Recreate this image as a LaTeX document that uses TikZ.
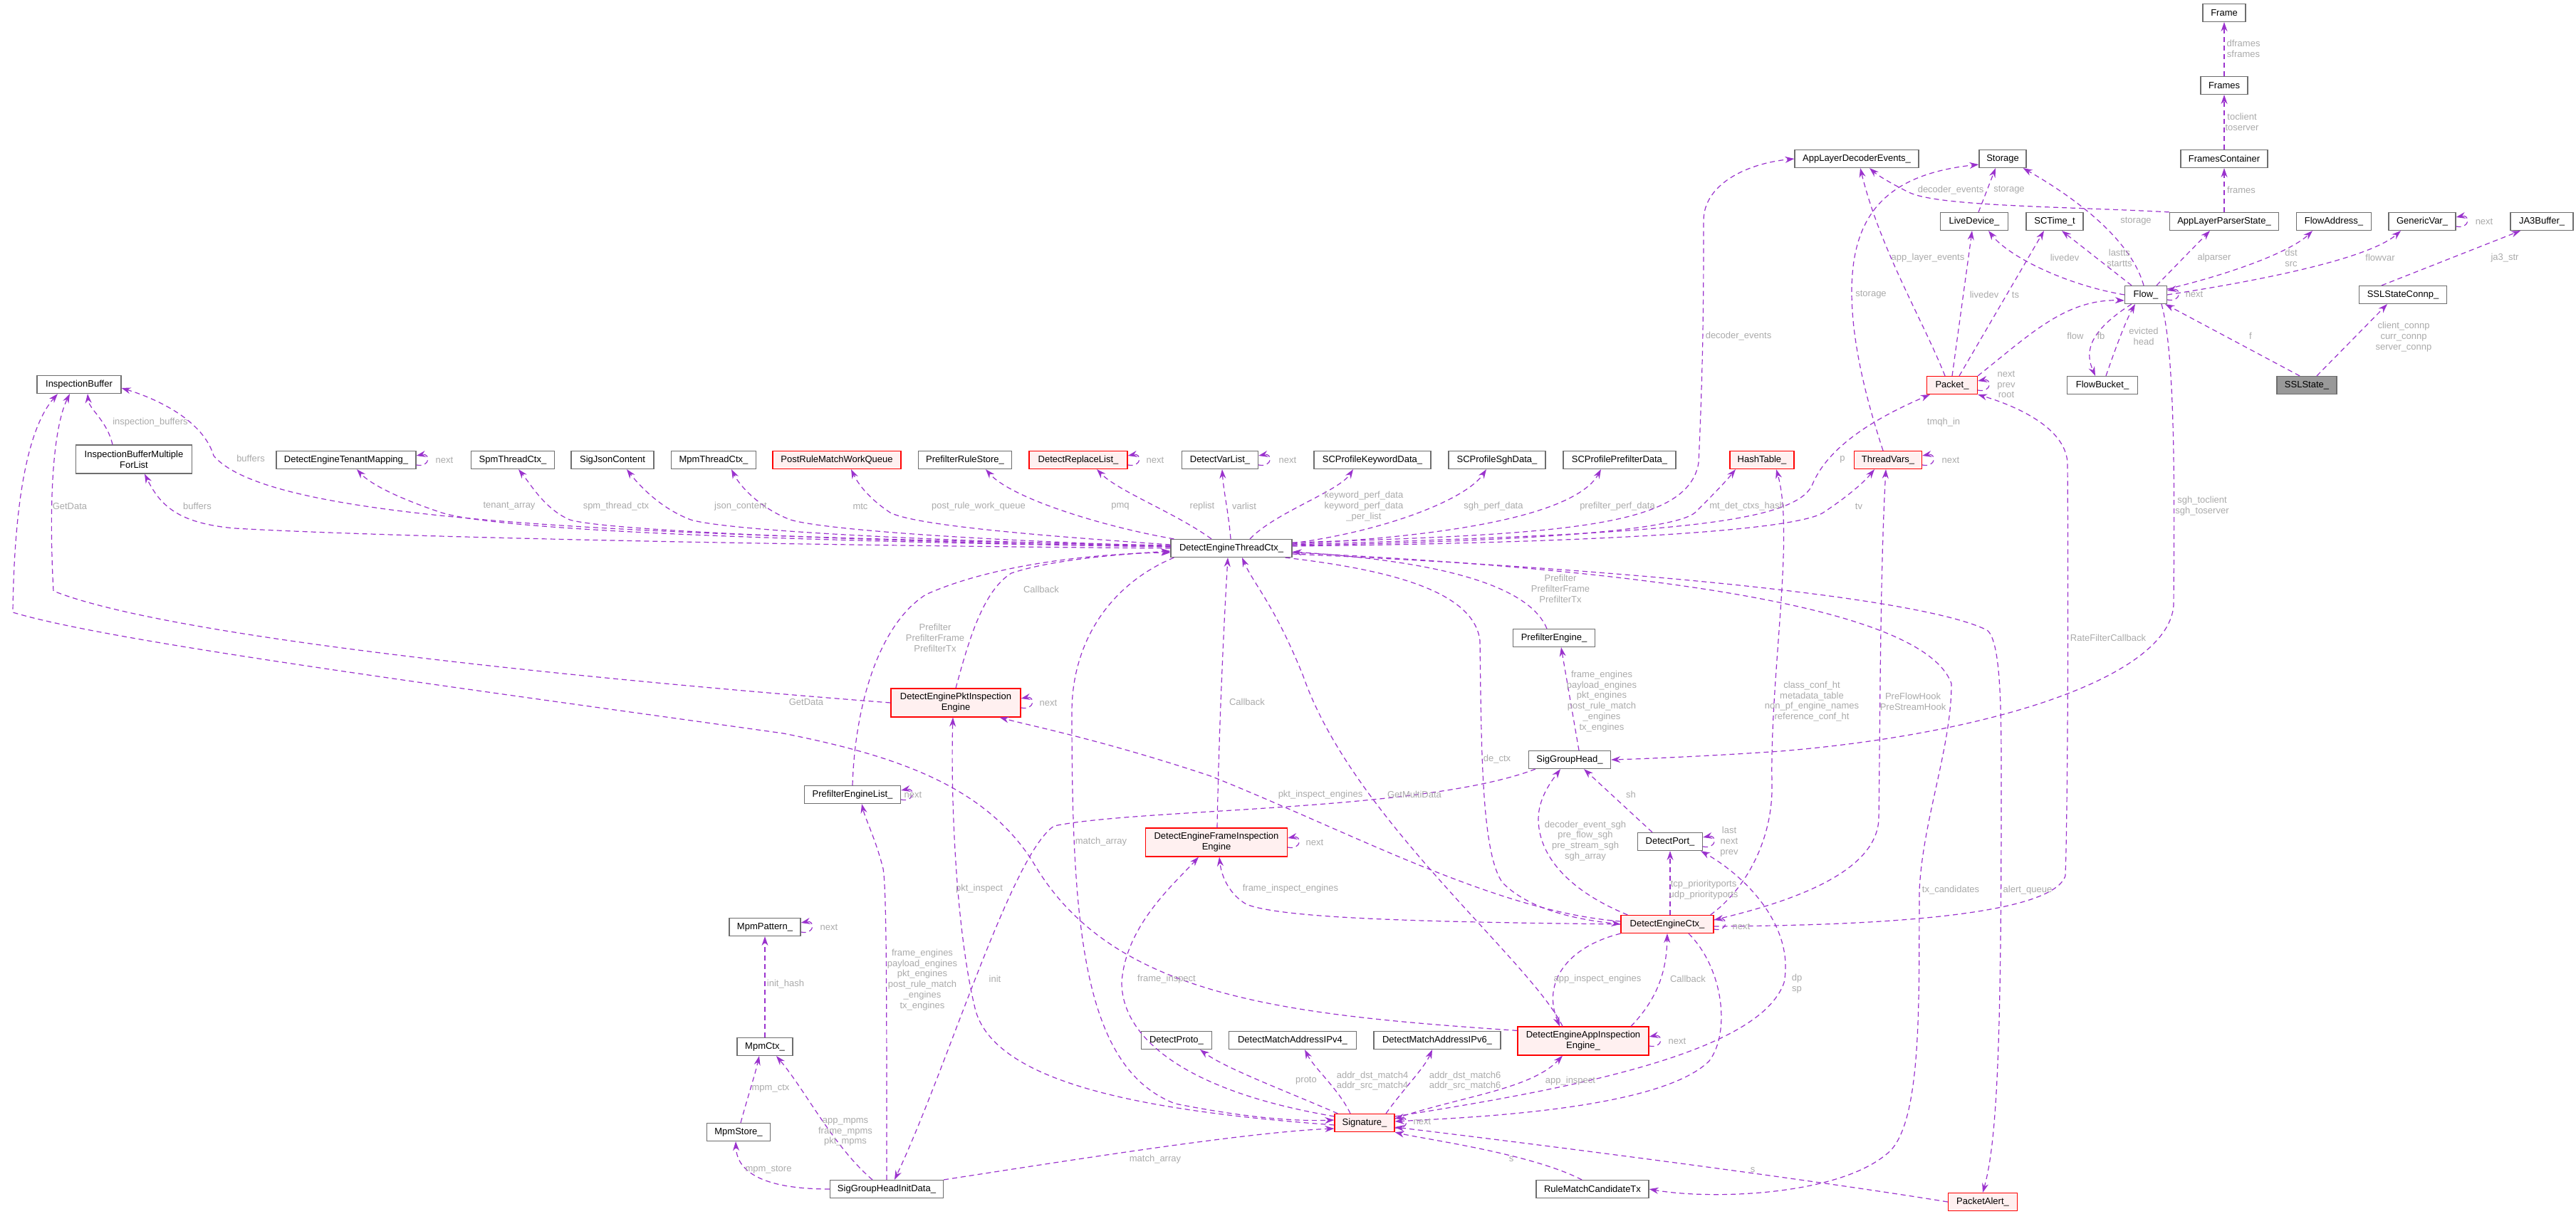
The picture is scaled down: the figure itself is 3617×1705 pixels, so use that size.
\documentclass[tikz,border=0pt]{standalone}
\usepackage{fontspec}
\setmainfont{Liberation Sans}
\usetikzlibrary{arrows.meta,calc}
\definecolor{purp}{RGB}{154,50,205}
\definecolor{lblc}{RGB}{170,170,170}
\definecolor{bord}{RGB}{110,110,110}
\definecolor{pinkf}{RGB}{255,240,240}
\definecolor{greyf}{RGB}{153,153,153}
\newcommand\myloop[1]{\draw[e] ($(#1.east)+(0,7)$) .. controls +(20,4) and +(20,-4) .. ($(#1.east)+(0,-6)$);}
\begin{document}
\begin{tikzpicture}[x=1pt,y=-1pt,
  box/.style={draw=bord,line width=1.2pt,fill=white,minimum height=25,inner sep=1,font=\fontsize{13}{14.8}\selectfont,align=center},
  rbox/.style={box,draw=red,fill=pinkf},
  gbox/.style={box,fill=greyf},
  tall/.style={minimum height=40},
  e/.style={purp,line width=1.2pt,dash pattern=on 7pt off 5pt,-{Stealth[length=13pt,width=9pt]}},
  lbl/.style={text=lblc,font=\fontsize{13}{14.8}\selectfont,align=center,inner sep=0}]
\fill[white] (0,0) rectangle (3617,1705);
\useasboundingbox (0,0) rectangle (3617,1705);
% nodes
\node[box,minimum width=118] (IB) at (111,540) {InspectionBuffer};
\node[box,tall,minimum width=163] (IBM) at (188,645) {InspectionBufferMultiple\\ForList};
\node[box,minimum width=196] (TEN) at (486,646) {DetectEngineTenantMapping\_};
\node[box,minimum width=117] (SPM) at (720,646) {SpmThreadCtx\_};
\node[box,minimum width=116] (SJC) at (860,646) {SigJsonContent};
\node[box,minimum width=119] (MTC) at (1002,646) {MpmThreadCtx\_};
\node[rbox,minimum width=180] (PRQ) at (1175,646) {PostRuleMatchWorkQueue};
\node[box,minimum width=131] (PRS) at (1355,646) {PrefilterRuleStore\_};
\node[rbox,minimum width=138] (DRL) at (1514,646) {DetectReplaceList\_};
\node[box,minimum width=107] (DVL) at (1713,646) {DetectVarList\_};
\node[box,minimum width=164] (SPK) at (1927,646) {SCProfileKeywordData\_};
\node[box,minimum width=136] (SPS) at (2102,646) {SCProfileSghData\_};
\node[box,minimum width=158] (SPP) at (2274,646) {SCProfilePrefilterData\_};
\node[rbox,minimum width=90] (HT) at (2474,646) {HashTable\_};
\node[rbox,minimum width=95] (TV) at (2651,646) {ThreadVars\_};
\node[box,minimum width=170] (DETC) at (1729,770) {DetectEngineThreadCtx\_};
\node[box,minimum width=115] (PFE) at (2182,896) {PrefilterEngine\_};
\node[rbox,tall,minimum width=182] (PKT) at (1342,987) {DetectEnginePktInspection\\Engine};
\node[box,minimum width=115] (SGH) at (2204,1067) {SigGroupHead\_};
\node[box,minimum width=135] (PFL) at (1197,1116) {PrefilterEngineList\_};
\node[box,minimum width=91] (DEP) at (2345,1182) {DetectPort\_};
\node[rbox,tall,minimum width=199] (FRM) at (1708,1183) {DetectEngineFrameInspection\\Engine};
\node[box,minimum width=100] (MPP) at (1074,1302) {MpmPattern\_};
\node[rbox,minimum width=130] (DEC) at (2341,1298) {DetectEngineCtx\_};
\node[rbox,tall,minimum width=184] (APP) at (2223,1462) {DetectEngineAppInspection\\Engine\_};
\node[box,minimum width=99] (DPR) at (1652,1461) {DetectProto\_};
\node[box,minimum width=179] (IP4) at (1815,1461) {DetectMatchAddressIPv4\_};
\node[box,minimum width=178] (IP6) at (2018,1461) {DetectMatchAddressIPv6\_};
\node[box,minimum width=78] (MPC) at (1074,1470) {MpmCtx\_};
\node[rbox,minimum width=84] (SIG) at (1916,1577) {Signature\_};
\node[box,minimum width=89] (MPS) at (1037,1590) {MpmStore\_};
\node[box,minimum width=159] (SHI) at (1245,1670) {SigGroupHeadInitData\_};
\node[box,minimum width=158] (RMC) at (2236,1670) {RuleMatchCandidateTx};
\node[rbox,minimum width=97] (PA) at (2784,1688) {PacketAlert\_};
\node[box,minimum width=60] (FR) at (3123,18) {Frame};
\node[box,minimum width=66] (FRS) at (3123,120) {Frames};
\node[box,minimum width=122] (FC) at (3123,223) {FramesContainer};
\node[box,minimum width=174] (ADE) at (2607,223) {AppLayerDecoderEvents\_};
\node[box,minimum width=66] (STO) at (2812,223) {Storage};
\node[box,minimum width=95] (LD) at (2772,311) {LiveDevice\_};
\node[box,minimum width=80] (SCT) at (2885,311) {SCTime\_t};
\node[box,minimum width=153] (ALP) at (3123,311) {AppLayerParserState\_};
\node[box,minimum width=105] (FA) at (3277,311) {FlowAddress\_};
\node[box,minimum width=94] (GV) at (3401,311) {GenericVar\_};
\node[box,minimum width=88] (JA3) at (3569,311) {JA3Buffer\_};
\node[box,minimum width=59] (FLW) at (3013,414) {Flow\_};
\node[box,minimum width=123] (SSC) at (3374,414) {SSLStateConnp\_};
\node[rbox,minimum width=71] (PK) at (2741,541) {Packet\_};
\node[box,minimum width=99] (FB) at (2952,541) {FlowBucket\_};
\node[gbox,minimum width=84] (SSL) at (3239,541) {SSLState\_};
% edges left
\draw[e] ($(IBM.north)+(-30,0)$) .. controls (150,590) and (125,575) .. ($(IB.south)+(12,0)$);
\draw[e] ($(DETC.west)+(0,-4)$) .. controls (900,752) and (380,735) .. (300,640) .. controls (285,590) and (220,560) .. ($(IB.east)+(0,5)$);
\draw[e] (DETC.west) .. controls (1000,765) and (500,752) .. (330,742) .. controls (250,735) and (225,710) .. ($(IBM.south)+(15,0)$);
\draw[e] (PKT.west) .. controls (900,960) and (250,900) .. (75,830) .. controls (68,700) and (75,600) .. ($(IB.south)+(-13,0)$);
\draw[e] ($(APP.north west)+(0,6)$) .. controls (1800,1425) and (1560,1400) .. (1450,1210) .. controls (1380,1100) and (1250,1060) .. (1100,1030) .. controls (600,960) and (150,900) .. (18,860) .. controls (20,700) and (40,600) .. ($(IB.south)+(-30,0)$);
\draw[e] ($(DETC.west)+(0,-2)$) .. controls (1100,760) and (700,745) .. (620,720) .. controls (560,700) and (520,680) .. ($(TEN.south)+(15,0)$);
\draw[e] ($(DETC.west)+(0,-2)$) .. controls (1200,760) and (850,745) .. (800,730) .. controls (765,715) and (745,680) .. ($(SPM.south)+(8,0)$);
\draw[e] ($(DETC.west)+(0,-3)$) .. controls (1300,760) and (1020,745) .. (970,730) .. controls (930,715) and (900,685) .. ($(SJC.south)+(20,0)$);
\draw[e] ($(DETC.west)+(0,-3)$) .. controls (1400,760) and (1160,745) .. (1110,730) .. controls (1070,715) and (1040,685) .. ($(MTC.south)+(25,0)$);
\draw[e] ($(DETC.west)+(0,-5)$) .. controls (1500,755) and (1290,740) .. (1250,720) .. controls (1220,700) and (1205,680) .. ($(PRQ.south)+(20,0)$);
\draw[e] ($(DETC.north west)+(5,0)$) .. controls (1550,740) and (1420,700) .. ($(PRS.south)+(29,0)$);
\draw[e] ($(DETC.north)+(-28,0)$) .. controls (1650,720) and (1570,690) .. ($(DRL.south)+(26,0)$);
\draw[e] ($(DETC.north)+(-1,0)$) .. controls (1725,720) and (1718,690) .. ($(DVL.south)+(3,0)$);
\draw[e] ($(DETC.north)+(26,0)$) .. controls (1790,720) and (1880,690) .. ($(SPK.south)+(-27,0)$);
\draw[e] ($(DETC.east)+(0,-7)$) .. controls (1950,745) and (2060,700) .. ($(SPS.south)+(-15,0)$);
\draw[e] ($(DETC.east)+(0,-6)$) .. controls (2100,750) and (2220,710) .. ($(SPP.south)+(-26,0)$);
\draw[e] ($(DETC.east)+(0,-4)$) .. controls (2150,760) and (2350,745) .. (2380,720) .. controls (2400,700) and (2420,680) .. ($(HT.south)+(-37,0)$);
\draw[e] ($(DETC.east)+(0,-3)$) .. controls (2250,762) and (2520,745) .. (2560,720) .. controls (2590,700) and (2615,680) .. ($(TV.south)+(-19,0)$);
\draw[e] ($(DETC.east)+(0,-5)$) .. controls (2300,750) and (2520,740) .. (2545,680) .. controls (2570,620) and (2650,580) .. ($(PK.south west)+(5,0)$);
\draw[e] ($(DETC.east)+(0,-8)$) .. controls (2200,750) and (2370,740) .. (2385,650) .. controls (2392,500) and (2392,400) .. (2392,310) .. controls (2392,260) and (2450,230) .. (ADE.west);
\draw[e] ($(DETC.south east)+(-10,0)$) .. controls (1950,800) and (2070,830) .. (2078,900) .. controls (2080,1050) and (2080,1200) .. (2110,1240) .. controls (2150,1280) and (2220,1292) .. (DEC.west);
\draw[e] ($(DETC.east)+(0,6)$) .. controls (2300,800) and (2700,850) .. (2740,960) .. controls (2740,1050) and (2700,1150) .. (2695,1250) .. controls (2694,1400) and (2700,1580) .. (2650,1620) .. controls (2580,1680) and (2400,1685) .. (RMC.east);
\draw[e] ($(DETC.east)+(0,8)$) .. controls (2300,800) and (2700,840) .. (2790,885) .. controls (2810,900) and (2810,1000) .. (2810,1100) .. controls (2810,1450) and (2805,1600) .. (PA.north);
\draw[e] ($(PFE.north)+(-10,0)$) .. controls (2150,830) and (2050,790) .. ($(DETC.east)+(0,5)$);
\draw[e] ($(SGH.north)+(13,0)$) -- ($(PFE.south)+(10,0)$);
\draw[e] (PFL.north) .. controls (1200,1000) and (1230,880) .. (1300,835) .. controls (1400,790) and (1550,777) .. ($(DETC.west)+(0,6)$);
\draw[e] (PKT.north) .. controls (1360,900) and (1380,830) .. (1420,805) .. controls (1480,785) and (1580,778) .. ($(DETC.west)+(0,4)$);
\draw[e] ($(FRM.north)+(1,0)$) .. controls (1712,1000) and (1720,850) .. ($(DETC.south)+(-5,0)$);
\draw[e] ($(APP.north)+(-29,0)$) .. controls (2150,1350) and (1900,1150) .. (1830,950) .. controls (1790,850) and (1760,820) .. ($(DETC.south)+(15,0)$);
\draw[e] ($(DETC.south west)+(5,0)$) .. controls (1560,820) and (1505,900) .. (1505,1000) .. controls (1505,1300) and (1520,1500) .. (1650,1550) .. controls (1750,1570) and (1820,1575) .. ($(SIG.west)+(0,-4)$);
\draw[e] ($(SIG.west)+(0,3)$) .. controls (1600,1560) and (1400,1520) .. (1370,1420) .. controls (1340,1300) and (1335,1100) .. ($(PKT.south)+(-4,0)$);
\draw[e] ($(SIG.north west)+(0,4)$) .. controls (1650,1530) and (1575,1450) .. (1575,1380) .. controls (1580,1300) and (1650,1240) .. ($(FRM.south)+(-25,0)$);
\draw[e] (DEC.west) .. controls (2000,1295) and (1800,1290) .. (1750,1270) .. controls (1725,1255) and (1715,1230) .. ($(FRM.south)+(4,0)$);
\draw[e] ($(DEC.west)+(0,-4)$) .. controls (2100,1280) and (1900,1170) .. (1700,1090) .. controls (1550,1040) and (1450,1020) .. ($(PKT.south east)+(-30,0)$);
\draw[e] (DEC.south west) .. controls (2200,1330) and (2165,1380) .. ($(APP.north)+(-33,0)$);
\draw[e] ($(APP.north)+(67,0)$) .. controls (2330,1400) and (2340,1360) .. (DEC.south);
\draw[e] ($(SIG.east)+(0,-6)$) .. controls (2050,1540) and (2150,1530) .. ($(APP.south)+(-29,0)$);
\draw[e] ($(SIG.north west)+(5,0)$) .. controls (1800,1530) and (1720,1500) .. ($(DPR.south)+(33,0)$);
\draw[e] ($(SIG.north)+(-20,0)$) .. controls (1880,1530) and (1845,1500) .. ($(IP4.south)+(17,0)$);
\draw[e] ($(SIG.north)+(30,0)$) .. controls (1970,1530) and (2000,1500) .. ($(IP6.south)+(-7,0)$);
\draw[e] ($(RMC.north)+(-15,0)$) .. controls (2150,1620) and (2000,1600) .. (SIG.south east);
\draw[e] (PA.west) .. controls (2500,1650) and (2100,1600) .. ($(SIG.east)+(0,6)$);
\draw[e] (SHI.north east) .. controls (1500,1630) and (1750,1590) .. ($(SIG.west)+(0,8)$);
\draw[e] ($(SGH.south west)+(10,0)$) .. controls (2000,1140) and (1600,1135) .. (1480,1160) .. controls (1420,1200) and (1330,1500) .. ($(SHI.north)+(11,0)$);
\draw[e] ($(SHI.north)+(0,0)$) .. controls (1245,1400) and (1245,1250) .. (1240,1220) .. controls (1230,1180) and (1215,1150) .. ($(PFL.south)+(13,0)$);
\draw[e] ($(SHI.north)+(-20,0)$) .. controls (1170,1610) and (1130,1530) .. ($(MPC.south)+(16,0)$);
\draw[e] ($(MPS.north)+(3,0)$) .. controls (1050,1540) and (1060,1510) .. ($(MPC.south)+(-8,0)$);
\draw[e] (SHI.west) .. controls (1080,1670) and (1035,1650) .. ($(MPS.south)+(-4,0)$);
\draw[e] (MPC.north) -- (MPP.south);
\draw[e] ($(DEC.north west)+(10,0)$) .. controls (2200,1250) and (2160,1200) .. (2160,1150) .. controls (2160,1120) and (2180,1095) .. ($(SGH.south)+(-13,0)$);
\draw[e] ($(DEP.north)+(-25,0)$) -- ($(SGH.south)+(20,0)$);
\draw[e] ($(DEC.north)+(4,0)$) -- (DEP.south);
\draw[e] ($(SIG.east)+(0,-9)$) .. controls (2200,1530) and (2470,1480) .. (2505,1380) .. controls (2520,1300) and (2450,1230) .. ($(DEP.south east)+(-3,0)$);
\draw[e] ($(DEC.south)+(30,0)$) .. controls (2420,1360) and (2430,1450) .. (2400,1490) .. controls (2330,1560) and (2050,1570) .. ($(SIG.east)+(0,-2)$);
\draw[e] ($(DEC.north east)+(-5,0)$) .. controls (2450,1250) and (2490,1180) .. (2488,1100) .. controls (2485,950) and (2520,750) .. ($(HT.south)+(20,0)$);
\draw[e] ($(DEC.east)+(0,-6)$) .. controls (2500,1270) and (2635,1230) .. (2638,1150) .. controls (2640,1000) and (2640,800) .. ($(TV.south)+(-3,0)$);
\draw[e] ($(DEC.east)+(0,3)$) .. controls (2600,1300) and (2880,1290) .. (2900,1230) .. controls (2904,1100) and (2904,800) .. (2903,650) .. controls (2900,600) and (2830,570) .. (PK.south east);
\draw[e] ($(FLW.south)+(22,0)$) .. controls (3055,500) and (3053,700) .. (3052,850) .. controls (3045,950) and (2800,1030) .. (2500,1055) .. controls (2400,1062) and (2300,1066) .. (SGH.east);
% top right
\draw[e] (FRS.north) -- (FR.south);
\draw[e] (FC.north) -- (FRS.south);
\draw[e] (ALP.north) -- (FC.south);
\draw[e] ($(ALP.north west)+(0,0)$) .. controls (2900,290) and (2720,290) .. (2680,270) .. controls (2650,255) and (2635,245) .. ($(ADE.south)+(18,0)$);
\draw[e] ($(LD.north)+(6,0)$) -- ($(STO.south)+(-10,0)$);
\draw[e] ($(TV.north)+(-7,0)$) .. controls (2620,560) and (2600,480) .. (2600,410) .. controls (2600,300) and (2650,245) .. ($(STO.west)+(0,8)$);
\draw[e] ($(FLW.north)+(-3,0)$) .. controls (2990,330) and (2900,270) .. ($(STO.south east)+(-5,0)$);
\draw[e] ($(PK.north)+(-10,0)$) .. controls (2700,450) and (2640,350) .. ($(ADE.south)+(5,0)$);
\draw[e] (PK.north) -- ($(LD.south)+(-3,0)$);
\draw[e] ($(PK.north)+(10,0)$) -- ($(SCT.south)+(-15,0)$);
\draw[e] (FLW.west) .. controls (2900,400) and (2820,360) .. ($(LD.south)+(20,0)$);
\draw[e] ($(FLW.north)+(-20,0)$) -- ($(SCT.south)+(10,0)$);
\draw[e] ($(FLW.north)+(15,0)$) -- ($(ALP.south)+(-20,0)$);
\draw[e] ($(FLW.east)+(0,-8)$) .. controls (3150,380) and (3220,350) .. ($(FA.south)+(-30,0)$);
\draw[e] (FLW.east) .. controls (3200,390) and (3330,360) .. ($(GV.south)+(-30,0)$);
\draw[e] ($(SSC.north)+(-30,0)$) -- ($(JA3.south)+(-30,0)$);
\draw[e] ($(SSL.north)+(14,0)$) -- ($(SSC.south)+(-22,0)$);
\draw[e] ($(SSL.north)+(-10,0)$) -- ($(FLW.south east)+(-3,0)$);
\draw[e] (PK.north east) .. controls (2850,470) and (2900,420) .. ($(FLW.west)+(0,8)$);
\draw[e] ($(FLW.south)+(-20,0)$) .. controls (2925,470) and (2930,500) .. ($(FB.north)+(-10,0)$);
\draw[e] ($(FB.north)+(5,0)$) .. controls (2970,490) and (2985,450) .. ($(FLW.south)+(-15,0)$);
% self loops
\myloop{TEN}\myloop{DRL}\myloop{DVL}\myloop{TV}\myloop{PK}\myloop{FLW}\myloop{GV}
\myloop{DEC}\myloop{SIG}\myloop{MPP}\myloop{PFL}\myloop{PKT}\myloop{FRM}\myloop{APP}\myloop{DEP}
% labels
\node[lbl] (l1) at (211,593) {inspection\_buffers};
\node[lbl] (l2) at (352,644) {buffers};
\node[lbl] (l3) at (277,711) {buffers};
\node[lbl] (l4) at (98,711) {GetData};
\node[lbl] (l5) at (1132,986) {GetData};
\node[lbl] (l6) at (715,711) {tenant\_array};
\node[lbl] (l7) at (865,711) {spm\_thread\_ctx};
\node[lbl] (l8) at (1040,711) {json\_content};
\node[lbl] (l9) at (1208,711) {mtc};
\node[lbl] (l10) at (1374,711) {post\_rule\_work\_queue};
\node[lbl] (l11) at (1573,711) {pmq};
\node[lbl] (l12) at (1688,711) {replist};
\node[lbl] (l13) at (1747,711) {varlist};
\node[lbl] (l14) at (1915,711) {keyword\_perf\_data\\keyword\_perf\_data\\\_per\_list};
\node[lbl] (l15) at (2097,711) {sgh\_perf\_data};
\node[lbl] (l16) at (2271,711) {prefilter\_perf\_data};
\node[lbl] (l17) at (2453,711) {mt\_det\_ctxs\_hash};
\node[lbl] (l18) at (2610,711) {tv};
\node[lbl] (l19) at (2587,645) {p};
\node[lbl] (l20) at (2441,472) {decoder\_events};
\node[lbl] (l21) at (2729,593) {tmqh\_in};
\node[lbl] (l22) at (2627,414) {storage};
\node[lbl] (l23) at (2707,362) {app\_layer\_events};
\node[lbl] (l24) at (2786,414) {livedev};
\node[lbl] (l25) at (2830,414) {ts};
\node[lbl] (l26) at (2914,472) {flow};
\node[lbl] (l27) at (2999,311) {storage};
\node[lbl] (l28) at (2899,362) {livedev};
\node[lbl] (l29) at (2976,362) {lastts\\startts};
\node[lbl] (l30) at (3109,362) {alparser};
\node[lbl] (l31) at (3217,362) {dst\\src};
\node[lbl] (l32) at (3342,362) {flowvar};
\node[lbl] (l33) at (3517,362) {ja3\_str};
\node[lbl] (l34) at (2950,472) {fb};
\node[lbl] (l35) at (3010,472) {evicted\\head};
\node[lbl] (l36) at (3160,472) {f};
\node[lbl] (l37) at (3375,473) {client\_connp\\curr\_connp\\server\_connp};
\node[lbl] (l38) at (2739,267) {decoder\_events};
\node[lbl] (l39) at (2821,267) {storage};
\node[lbl] (l40) at (3147,267) {frames};
\node[lbl] (l41) at (3148,171) {toclient\\toserver};
\node[lbl] (l42) at (3150,68) {dframes\\sframes};
\node[lbl] (l43) at (3092,711) {sgh\_toclient\\sgh\_toserver};
\node[lbl] (l44) at (2960,896) {RateFilterCallback};
\node[lbl] (l45) at (2102,1066) {de\_ctx};
\node[lbl] (l46) at (2544,985) {class\_conf\_ht\\metadata\_table\\non\_pf\_engine\_names\\reference\_conf\_ht};
\node[lbl] (l47) at (2686,985) {PreFlowHook\\PreStreamHook};
\node[lbl] (l48) at (2739,1250) {tx\_candidates};
\node[lbl] (l49) at (2847,1250) {alert\_queue};
\node[lbl] (l50) at (2445,1301) {next};
\node[lbl] (l51) at (2226,1181) {decoder\_event\_sgh\\pre\_flow\_sgh\\pre\_stream\_sgh\\sgh\_array};
\node[lbl] (l52) at (2290,1116) {sh};
\node[lbl] (l53) at (2428,1182) {last\\next\\prev};
\node[lbl] (l54) at (2392,1250) {tcp\_priorityports\\udp\_priorityports};
\node[lbl] (l55) at (2523,1382) {dp\\sp};
\node[lbl] (l56) at (2249,985) {frame\_engines\\payload\_engines\\pkt\_engines\\post\_rule\_match\\\_engines\\tx\_engines};
\node[lbl] (l57) at (2191,827) {Prefilter\\PrefilterFrame\\PrefilterTx};
\node[lbl] (l58) at (1313,896) {Prefilter\\PrefilterFrame\\PrefilterTx};
\node[lbl] (l59) at (1462,828) {Callback};
\node[lbl] (l60) at (1751,986) {Callback};
\node[lbl] (l61) at (1986,1116) {GetMultiData};
\node[lbl] (l62) at (1546,1182) {match\_array};
\node[lbl] (l63) at (1375,1248) {pkt\_inspect};
\node[lbl] (l64) at (1638,1375) {frame\_inspect};
\node[lbl] (l65) at (1812,1248) {frame\_inspect\_engines};
\node[lbl] (l66) at (1854,1116) {pkt\_inspect\_engines};
\node[lbl] (l67) at (2243,1375) {app\_inspect\_engines};
\node[lbl] (l68) at (2370,1375) {Callback};
\node[lbl] (l69) at (2205,1518) {app\_inspect};
\node[lbl] (l70) at (1834,1518) {proto};
\node[lbl] (l71) at (1927,1518) {addr\_dst\_match4\\addr\_src\_match4};
\node[lbl] (l72) at (2057,1518) {addr\_dst\_match6\\addr\_src\_match6};
\node[lbl] (l73) at (1997,1575) {next};
\node[lbl] (l74) at (2122,1628) {s};
\node[lbl] (l75) at (2461,1643) {s};
\node[lbl] (l76) at (1622,1628) {match\_array};
\node[lbl] (l77) at (1397,1375) {init};
\node[lbl] (l78) at (1295,1376) {frame\_engines\\payload\_engines\\pkt\_engines\\post\_rule\_match\\\_engines\\tx\_engines};
\node[lbl] (l79) at (1187,1590) {app\_mpms\\frame\_mpms\\pkt\_mpms};
\node[lbl] (l80) at (1082,1529) {mpm\_ctx};
\node[lbl] (l81) at (1079,1643) {mpm\_store};
\node[lbl] (l82) at (1103,1382) {init\_hash};
\node[lbl] (l83) at (1164,1302) {next};
\node[lbl] (l84) at (1282,1116) {next};
\node[lbl] (l85) at (1472,987) {next};
\node[lbl] (l86) at (1846,1183) {next};
\node[lbl] (l87) at (2355,1462) {next};
\node[lbl] (l88) at (624,646) {next};
\node[lbl] (l89) at (1622,646) {next};
\node[lbl] (l90) at (1808,646) {next};
\node[lbl] (l91) at (2739,646) {next};
\node[lbl] (l92) at (2817,540) {next\\prev\\root};
\node[lbl] (l93) at (3081,413) {next};
\node[lbl] (l94) at (3488,311) {next};
\end{tikzpicture}
\end{document}
